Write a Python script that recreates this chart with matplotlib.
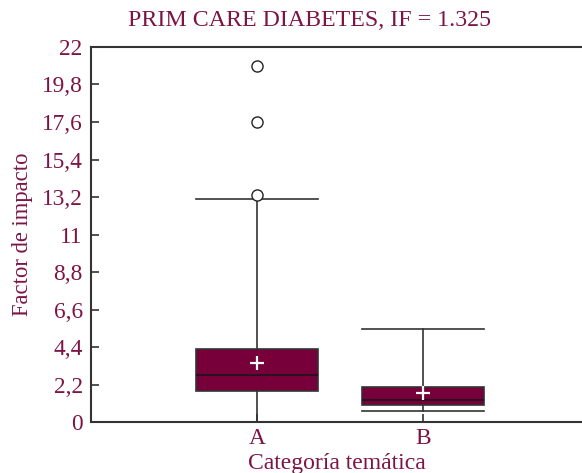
import matplotlib
matplotlib.use("Agg")
import matplotlib.pyplot as plt

categories = ["A", "B"]
q1 = [1.82, 1.00]
median = [2.76, 1.29]
q3 = [4.28, 2.05]
mean = [3.46, 1.70]
whislo = [0.0, 0.65]
whishi = [13.08, 5.45]
outliers = [[13.3, 17.6, 20.9], []]
yticks = [0, 2.2, 4.4, 6.6, 8.8, 11, 13.2, 15.4, 17.6, 19.8, 22]
ytick_labels = ["0", "2,2", "4,4", "6,6", "8,8", "11", "13,2", "15,4", "17,6", "19,8", "22"]

txt = "#7d1446"
fill = "#78003a"
dark = "#333333"
plt.rcParams["font.family"] = ["Liberation Serif", "DejaVu Serif"]

fig = plt.figure(figsize=(5.82, 4.73), dpi=100)
ax = fig.add_axes([91/582, 1-422/473, 1-91/582, (422-47)/473])

stats = []
for i, c in enumerate(categories):
    stats.append(dict(label=c, q1=q1[i], med=median[i], q3=q3[i], mean=mean[i],
                      whislo=whislo[i], whishi=whishi[i], fliers=outliers[i]))

ax.bxp(stats, positions=[1, 2], widths=0.735, showmeans=True, patch_artist=True,
       boxprops=dict(facecolor=fill, edgecolor=dark, linewidth=1.2),
       medianprops=dict(color="#2a1020", linewidth=1.5),
       whiskerprops=dict(color=dark, linewidth=1.2),
       capprops=dict(color=dark, linewidth=1.2),
       capwidths=0.735,
       meanprops=dict(marker="+", markeredgecolor="white", markerfacecolor="white",
                      markersize=10, markeredgewidth=1.6),
       flierprops=dict(marker="o", markerfacecolor="white", markeredgecolor="#222222",
                       markersize=8, markeredgewidth=1.0))

ax.set_xlim(0, 2.96)
ax.set_ylim(0, 22)
ax.set_yticks(yticks)
ax.set_yticklabels(ytick_labels)
ax.set_xticks([1, 2])
ax.set_xticklabels(categories)
ax.tick_params(axis="both", direction="in", colors=dark, labelcolor=txt, labelsize=16.8,
               length=6, width=1.2)
ax.tick_params(axis="x", pad=4)
ax.tick_params(axis="y", pad=6)
for s in ["left", "top", "bottom"]:
    ax.spines[s].set_color(dark)
    ax.spines[s].set_linewidth(1.5)
ax.spines["right"].set_visible(False)

ax.set_ylabel("Factor de impacto", color=txt, fontsize=16.3, labelpad=6)
ax.set_xlabel("Categoría temática", color=txt, fontsize=17, labelpad=3)
fig.text(310/582, 1-20/473, "PRIM CARE DIABETES, IF = 1.325", color=txt, fontsize=17.2,
         ha="center", va="center")

fig.savefig("out.png", dpi=100)
